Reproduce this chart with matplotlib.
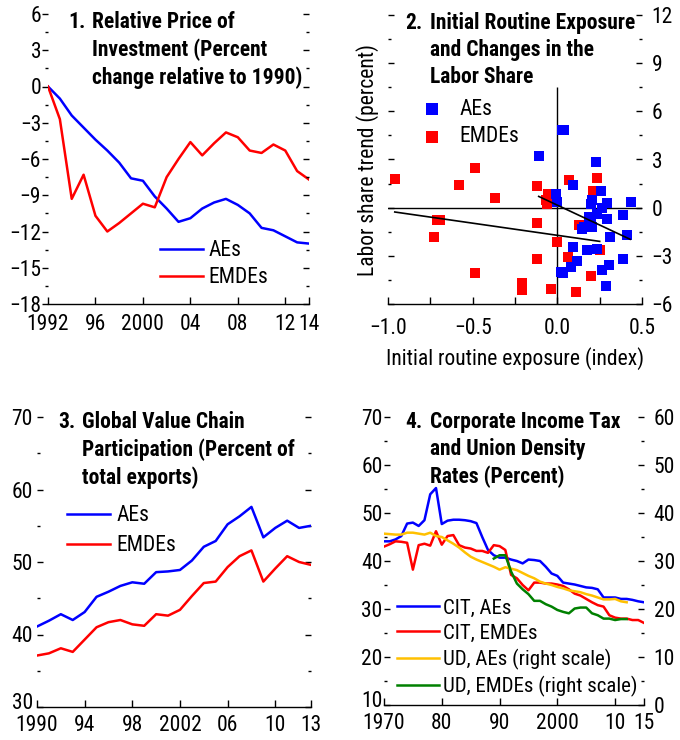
import matplotlib
matplotlib.use("Agg")
import matplotlib.pyplot as plt
from matplotlib import font_manager
from matplotlib.ticker import MultipleLocator, FuncFormatter
from matplotlib.transforms import ScaledTranslation

# ---------------- data ----------------
# Panel 1: relative price of investment
p1_years = list(range(1992, 2015))
p1_aes = [0.0, -1.0, -2.4, -3.4, -4.4, -5.3, -6.3, -7.6, -7.8, -9.1, -10.1, -11.2,
          -10.9, -10.1, -9.6, -9.3, -9.8, -10.5, -11.7, -11.9, -12.4, -12.9, -13.0]
p1_emdes = [0.0, -2.7, -9.3, -7.3, -10.7, -12.0, -11.3, -10.5, -9.7, -10.0, -7.5, -6.0,
            -4.6, -5.7, -4.7, -3.8, -4.2, -5.3, -5.5, -4.8, -5.3, -7.0, -7.7]
p1_xticks = [1992, 1996, 2000, 2004, 2008, 2012, 2014]
p1_xlabels = ["1992", "96", "2000", "04", "08", "12", "14"]

# Panel 2: scatter
ae_x = [-0.111, 0.028, 0.041, 0.227, 0.095, 0.260, -0.010, -0.004, 0.207, 0.197, 0.292,
        0.434, 0.266, 0.237, 0.385, 0.187, 0.292, 0.201, 0.207, 0.158, 0.148, 0.414,
        0.310, 0.095, 0.174, 0.233, 0.118, 0.385, 0.083, 0.308, 0.261, 0.020, 0.036, 0.286]
ae_y = [3.22, 4.81, 4.83, 2.84, 1.41, 1.04, 0.83, 0.35, 0.46, 0.25, 0.29,
        0.35, 0.00, -0.41, -0.46, -0.58, -0.73, -0.89, -1.20, -1.20, -1.35, -1.72,
        -1.83, -2.45, -2.61, -2.55, -3.32, -3.17, -3.69, -3.59, -3.86, -4.00, -4.07, -4.88]
em_x = [-0.957, -0.489, -0.580, -0.367, -0.712, -0.691, -0.726, -0.487, -0.207, -0.207,
        -0.122, -0.118, -0.122, -0.055, -0.069, -0.061, 0.000, -0.039, 0.069, 0.065,
        0.109, 0.128, 0.201, 0.237, 0.213, 0.253]
em_y = [1.80, 2.49, 1.41, 0.62, -0.79, -0.75, -1.85, -4.07, -4.71, -5.12,
        1.37, -0.93, -3.20, 0.85, 0.48, 0.21, -2.14, -5.04, 1.70, -3.07,
        -5.25, -1.10, -4.27, 1.87, 1.04, -2.61]
ae_fit_x = [-0.11, 0.43]
ae_fit_y = [0.70, -1.97]
em_fit_x = [-0.96, 0.25]
em_fit_y = [-0.27, -2.10]
p2_vline_top = 7.5

# Panel 3: GVC participation
p3_years = list(range(1990, 2014))
p3_aes = [41.1, 41.9, 42.8, 42.0, 43.1, 45.2, 45.9, 46.7, 47.2, 47.0, 48.6, 48.7,
          48.9, 50.2, 52.1, 52.9, 55.2, 56.3, 57.6, 53.4, 54.7, 55.7, 54.7, 55.0]
p3_emdes = [37.1, 37.4, 38.1, 37.6, 39.3, 41.0, 41.7, 42.0, 41.4, 41.2, 42.8, 42.6,
            43.4, 45.3, 47.1, 47.3, 49.3, 50.8, 51.6, 47.3, 49.1, 50.8, 50.0, 49.6]
p3_xticks = [1990, 1994, 1998, 2002, 2006, 2010, 2013]
p3_xlabels = ["1990", "94", "98", "2002", "06", "10", "13"]

# Panel 4: CIT and union density
p4_years = list(range(1970, 2016))
cit_aes = [44.1, 44.1, 44.5, 45.2, 47.8, 48.0, 47.3, 48.5, 53.9, 55.2, 47.7, 48.4,
           48.6, 48.6, 48.5, 48.3, 47.9, 45.0, 42.3, 41.2, 40.7, 40.7, 40.3, 40.0,
           39.5, 40.3, 40.2, 40.0, 38.8, 37.4, 36.9, 35.5, 35.3, 35.1, 34.8, 34.5,
           34.4, 34.1, 32.4, 32.4, 32.4, 32.1, 32.1, 31.9, 31.6, 31.4]
cit_emdes = [43.0, 43.5, 44.1, 44.0, 43.8, 38.2, 43.3, 43.6, 43.2, 46.2, 43.4, 45.2,
             45.4, 43.3, 42.8, 42.6, 42.1, 42.1, 41.7, 43.3, 43.1, 42.3, 37.1, 36.4,
             35.0, 33.9, 35.5, 35.5, 35.3, 35.3, 35.1, 34.8, 34.1, 33.2, 32.8, 32.1,
             31.4, 30.8, 30.5, 28.7, 28.2, 28.0, 28.0, 27.7, 27.7, 27.1]
ud_aes_years = list(range(1970, 2013))
ud_aes = [35.7, 35.6, 35.5, 35.5, 35.9, 35.9, 35.7, 35.5, 35.9, 35.2, 35.0, 34.3,
          33.6, 32.8, 31.8, 30.9, 30.3, 29.8, 29.3, 28.8, 28.2, 28.7, 28.4, 28.1,
          27.5, 26.9, 26.4, 25.7, 25.3, 25.0, 24.6, 24.3, 23.9, 23.7, 23.5, 23.1,
          22.8, 22.4, 22.0, 22.0, 22.1, 21.6, 21.4]
ud_emdes_years = list(range(1989, 2013))
ud_emdes = [30.5, 31.2, 31.2, 27.8, 25.3, 24.1, 23.1, 21.7, 21.7, 21.0, 20.5, 19.8,
            19.4, 19.1, 20.1, 20.3, 20.3, 19.1, 18.7, 18.0, 18.0, 17.7, 17.9, 17.9]
p4_xticks = [1970, 1980, 1990, 2000, 2010, 2015]
p4_xlabels = ["1970", "80", "90", "2000", "10", "15"]

# ---------------- style ----------------
available = {f.name for f in font_manager.fontManager.ttflist}
FONT = next((f for f in ["Liberation Sans Narrow", "Roboto Condensed", "Liberation Sans"]
             if f in available), "DejaVu Sans")
plt.rcParams["font.family"] = [FONT, "DejaVu Sans"]
plt.rcParams["axes.unicode_minus"] = True

BLUE = "#0000FF"
RED = "#FF0000"
GOLD = "#FFC000"
GREEN = "#008000"
LW = 1.8
FS = 15.5
TFS = 15.5

W, H = 680, 740
fig = plt.figure(figsize=(W / 100, H / 100), dpi=100)


def px_axes(left, top, right, bottom):
    return fig.add_axes([left / W, 1 - bottom / H, (right - left) / W, (bottom - top) / H])


def style(ax, right_labels=False, left_labels=True):
    for s in ["top", "left", "right"]:
        ax.spines[s].set_visible(False)
    ax.spines["bottom"].set_linewidth(1.0)
    ax.tick_params(axis="x", which="both", direction="in", length=5, width=1.0,
                   pad=7, labelsize=FS, top=False)
    ax.tick_params(axis="y", which="major", length=4, width=1.0, labelsize=FS,
                   left=True, right=True, labelleft=left_labels, labelright=right_labels,
                   pad=2)
    ax.tick_params(axis="y", which="minor", length=2, width=1.0, left=True, right=True)
    ax.tick_params(axis="y", which="both", direction="in")


def title(ax, num, lines, xnum, xtxt, ytop):
    ax.text(xnum, ytop, num, transform=ax.transAxes, fontsize=TFS, fontweight="bold",
            va="top", ha="left")
    ax.text(xtxt, ytop, "\n".join(lines), transform=ax.transAxes, fontsize=TFS,
            fontweight="bold", va="top", ha="left", linespacing=1.3)


def lift_lowest_ylabel(ax, pts=4):
    fig.canvas.draw()
    lo = ax.get_ylim()[0]
    for tick in ax.yaxis.get_major_ticks():
        if abs(tick.get_loc() - lo) < 1e-9:
            tick.label1.set_transform(tick.label1.get_transform() +
                                      ScaledTranslation(0, pts / 72, fig.dpi_scale_trans))


# ---- Panel 1 ----
ax1 = px_axes(48, 14, 309, 304)
ax1.plot(p1_years, p1_aes, color=BLUE, lw=LW, label="AEs")
ax1.plot(p1_years, p1_emdes, color=RED, lw=LW, label="EMDEs")
ax1.set_xlim(p1_years[0], p1_years[-1])
ax1.set_ylim(-18, 6)
ax1.yaxis.set_major_locator(MultipleLocator(3))
ax1.yaxis.set_minor_locator(MultipleLocator(1.5))
ax1.set_xticks(p1_xticks)
ax1.set_xticklabels(p1_xlabels)
style(ax1)
ax1.tick_params(axis="y", which="both", left=True, right=False, direction="out")
ax1.tick_params(axis="y", which="major", pad=1)
ax1r = ax1.twinx()
ax1r.set_ylim(-18, 6)
ax1r.yaxis.set_major_locator(MultipleLocator(3))
ax1r.yaxis.set_minor_locator(MultipleLocator(1.5))
for s in ["top", "left", "right", "bottom"]:
    ax1r.spines[s].set_visible(False)
ax1r.tick_params(axis="y", which="major", direction="in", length=4, width=1.0,
                 labelright=False)
ax1r.tick_params(axis="y", which="minor", direction="in", length=2, width=1.0)
ax1.legend(loc="upper left", bbox_to_anchor=(0.43, 0.22), frameon=False, fontsize=FS,
           handlelength=2.0, handletextpad=0.25, labelspacing=0.28, borderpad=0,
           borderaxespad=0)
title(ax1, "1.", ["Relative Price of", "Investment (Percent", "change relative to 1990)"],
      0.077, 0.169, 1.01)

# ---- Panel 2 ----
ax2 = px_axes(388, 15, 642, 304)
ax2.axhline(0, color="black", lw=1.0, zorder=1)
ax2.vlines(0, -6, p2_vline_top, color="black", lw=1.0, zorder=1)
ax2.scatter(ae_x, ae_y, marker="s", s=60, color=BLUE, linewidths=0, label="AEs", zorder=3)
ax2.scatter(em_x, em_y, marker="s", s=60, color=RED, linewidths=0, label="EMDEs", zorder=2)
ax2.plot(ae_fit_x, ae_fit_y, color="black", lw=1.2, zorder=4)
ax2.plot(em_fit_x, em_fit_y, color="black", lw=1.2, zorder=4)
ax2.set_xlim(-1.0, 0.5)
ax2.set_ylim(-6, 12)
ax2.xaxis.set_major_locator(MultipleLocator(0.5))
ax2.xaxis.set_minor_locator(MultipleLocator(0.25))
ax2.xaxis.set_major_formatter(FuncFormatter(
    lambda v, p: f"{v:.1f}".replace("-", "\u2212")))
ax2.yaxis.set_major_locator(MultipleLocator(3))
ax2.yaxis.set_minor_locator(MultipleLocator(1.5))
style(ax2, right_labels=True, left_labels=False)
ax2.tick_params(axis="x", which="minor", direction="in", length=5, width=1.0)
ax2.tick_params(axis="x", which="major", pad=10)
ax2.tick_params(axis="y", which="major", pad=7)
ax2.set_xlabel("Initial routine exposure (index)", fontsize=FS, labelpad=6)
ax2.set_ylabel("Labor share trend (percent)", fontsize=FS, labelpad=3)
ax2.legend(loc="upper left", bbox_to_anchor=(0.09, 0.71), frameon=False, fontsize=FS,
           handletextpad=0.25, labelspacing=0.3, borderpad=0, borderaxespad=0,
           markerscale=1.2)
title(ax2, "2.", ["Initial Routine Exposure", "and Changes in the", "Labor Share"],
      0.067, 0.165, 1.01)

# ---- Panel 3 ----
ax3 = px_axes(37, 417, 311, 707)
ax3.plot(p3_years, p3_aes, color=BLUE, lw=LW, label="AEs")
ax3.plot(p3_years, p3_emdes, color=RED, lw=LW, label="EMDEs")
ax3.set_xlim(p3_years[0], p3_years[-1])
ax3.set_ylim(30, 70)
ax3.yaxis.set_major_locator(MultipleLocator(10))
ax3.yaxis.set_minor_locator(MultipleLocator(5))
ax3.set_xticks(p3_xticks)
ax3.set_xticklabels(p3_xlabels)
style(ax3)
ax3.tick_params(axis="x", which="major", pad=6)
ax3.tick_params(axis="y", which="major", pad=3)
ax3.legend(loc="upper left", bbox_to_anchor=(0.11, 0.695), frameon=False, fontsize=FS,
           handlelength=2.0, handletextpad=0.3, labelspacing=0.4, borderpad=0,
           borderaxespad=0)
title(ax3, "3.", ["Global Value Chain", "Participation (Percent of", "total exports)"],
      0.077, 0.164, 1.02)

# ---- Panel 4 ----
ax4 = px_axes(384, 417, 644, 705)
ax4b = ax4.twinx()
l1, = ax4.plot(p4_years, cit_aes, color=BLUE, lw=LW, label="CIT, AEs")
l2, = ax4.plot(p4_years, cit_emdes, color=RED, lw=LW, label="CIT, EMDEs")
l3, = ax4b.plot(ud_aes_years, ud_aes, color=GOLD, lw=LW, label="UD, AEs (right scale)")
l4, = ax4b.plot(ud_emdes_years, ud_emdes, color=GREEN, lw=LW,
                label="UD, EMDEs (right scale)")
ax4.set_xlim(p4_years[0], p4_years[-1])
ax4.set_ylim(10, 70)
ax4b.set_ylim(0, 60)
ax4.yaxis.set_major_locator(MultipleLocator(10))
ax4.yaxis.set_minor_locator(MultipleLocator(5))
ax4b.yaxis.set_major_locator(MultipleLocator(10))
ax4b.yaxis.set_minor_locator(MultipleLocator(5))
ax4.set_xticks(p4_xticks)
ax4.set_xticklabels(p4_xlabels)
style(ax4)
ax4.tick_params(axis="x", which="major", pad=6)
ax4.tick_params(axis="y", which="both", right=False)
ax4.tick_params(axis="y", which="major", pad=1)
for s in ["top", "left", "right", "bottom"]:
    ax4b.spines[s].set_visible(False)
ax4b.tick_params(axis="y", which="major", direction="in", length=4, width=1.0,
                 labelsize=FS, pad=7, right=True, left=False)
ax4b.tick_params(axis="y", which="minor", direction="in", length=2, width=1.0)
ax4b.legend(handles=[l1, l2, l3, l4], loc="upper left", bbox_to_anchor=(0.05, 0.37),
            frameon=False, fontsize=15, handlelength=2.0, handletextpad=0.2,
            labelspacing=0.3, borderpad=0, borderaxespad=0)
title(ax4b, "4.", ["Corporate Income Tax", "and Union Density", "Rates (Percent)"],
      0.081, 0.177, 1.02)

# keep the lowest left-axis labels clear of the year labels beneath them
for a in (ax3, ax4):
    lift_lowest_ylabel(a, pts=4)

fig.savefig("out.png", dpi=100)
